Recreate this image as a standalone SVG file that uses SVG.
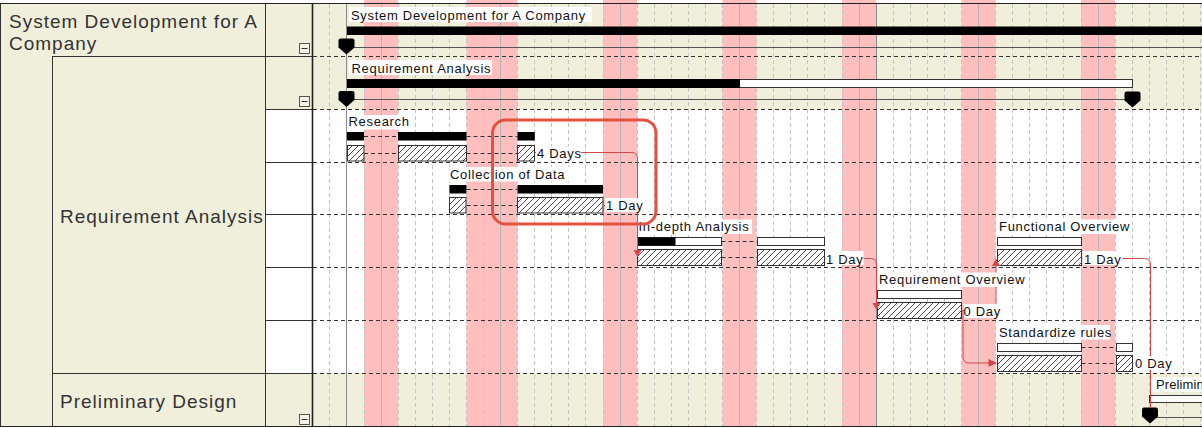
<svg xmlns="http://www.w3.org/2000/svg" width="1202" height="428" viewBox="0 0 1202 428">
<style>
.lbl{font-family:"Liberation Sans",Arial,sans-serif;font-size:13px;letter-spacing:0.7px;fill:#111}
.big{font-family:"Liberation Sans",Arial,sans-serif;font-size:19px;letter-spacing:1px;fill:#333}
.lbg{fill:#fff}
.pink{fill:#FFBFBF}
.beige{fill:#F0EFDC}
.done{fill:#000}
.plan{fill:#fff;stroke:#333;stroke-width:1}
.act{fill:url(#hatch);stroke:#333;stroke-width:1}
.dash{stroke:#333;stroke-width:1;stroke-dasharray:4 3;fill:none}
.conn{stroke:#D24848;stroke-width:1;fill:none}
.arr{fill:#D24848}
.sline{stroke:#555;stroke-width:1}
.icon{fill:#F4F3E6;stroke:#555;stroke-width:1}
</style>
<defs>
<pattern id="hatch" width="6" height="6" patternUnits="userSpaceOnUse">
<rect width="6" height="6" fill="#fff"/>
<path d="M-1,1 L1,-1 M0,6 L6,0 M5,7 L7,5" stroke="#333" stroke-width="0.9"/>
</pattern>
<path id="mk" d="M-8,2 Q-8,0 -6,0 H6 Q8,0 8,2 V9 L0,16 L-8,9 Z" fill="#000"/>
<g id="minus"><rect class="icon" x="0.5" y="0.5" width="10" height="10"/><path d="M2.5,5.5 H8.5" stroke="#333" stroke-width="1"/></g>
</defs>

<!-- chart background -->
<rect x="0" y="0" width="1202" height="428" fill="#fff"/>
<rect class="beige" x="313" y="4" width="889" height="105.5"/>
<rect class="beige" x="313" y="373" width="889" height="53"/>

<!-- weekend / holiday bands -->
<g id="bands">
<rect class="pink" x="364" y="0" width="34" height="426"/>
<rect class="pink" x="466.5" y="0" width="51" height="426"/>
<rect class="pink" x="603" y="0" width="34" height="426"/>
<rect class="pink" x="722.5" y="0" width="34" height="426"/>
<rect class="pink" x="842" y="0" width="34" height="426"/>
<rect class="pink" x="961.5" y="0" width="34" height="426"/>
<rect class="pink" x="1081" y="0" width="34" height="426"/>
</g>

<!-- grid -->
<g id="grid">
<path d="M329.5,4V426M364.5,4V426M398.5,4V426M415.5,4V426M432.5,4V426M449.5,4V426M466.5,4V426M483.5,4V426M517.5,4V426M534.5,4V426M551.5,4V426M568.5,4V426M585.5,4V426M603.5,4V426M637.5,4V426M654.5,4V426M671.5,4V426M688.5,4V426M705.5,4V426M722.5,4V426M756.5,4V426M773.5,4V426M790.5,4V426M807.5,4V426M824.5,4V426M842.5,4V426M893.5,4V426M910.5,4V426M927.5,4V426M944.5,4V426M961.5,4V426M995.5,4V426M1012.5,4V426M1029.5,4V426M1046.5,4V426M1063.5,4V426M1081.5,4V426M1115.5,4V426M1132.5,4V426M1149.5,4V426M1166.5,4V426M1183.5,4V426M1200.5,4V426" stroke="#C4C4C4" stroke-width="1" stroke-dasharray="4 3" fill="none"/>
<path d="M381.5,4V426M500.5,4V426M620.5,4V426M739.5,4V426M859.5,4V426M978.5,4V426M1098.5,4V426" stroke="#B4B4B4" stroke-width="1"/>
<path d="M346.5,4V426M876.5,4V426" stroke="#8A8A8A" stroke-width="1"/>
<path d="M313,56.5H1202M313,109.5H1202M313,162.5H1202M313,214.5H1202M313,267.5H1202M313,320.5H1202M313,373.5H1202" class="dash" stroke="#222"/>
</g>

<!-- summary rows -->
<g id="sum-system">
<rect class="lbg" x="349" y="7" width="243" height="15"/>
<text class="lbl" x="351" y="19.5">System Development for A Company</text>
<rect class="done" x="347" y="26.5" width="855" height="8.5"/>
<path class="sline" d="M347,47.5H1202"/>
<use href="#mk" x="346.5" y="38.5"/>
</g>
<g id="sum-req">
<rect class="lbg" x="349" y="60" width="143" height="15"/>
<text class="lbl" x="351.5" y="72.5">Requirement Analysis</text>
<rect class="plan" x="347.5" y="79.5" width="785" height="8"/>
<rect class="done" x="347" y="79" width="393" height="9"/>
<path class="sline" d="M347,99.5H1132"/>
<use href="#mk" x="346.5" y="91"/>
<use href="#mk" x="1132.5" y="91.5"/>
</g>
<g id="sum-prelim">
<rect class="lbg" x="1151" y="377" width="51" height="15"/>
<text class="lbl" x="1156" y="388.5" style="letter-spacing:0.1px">Prelimin</text>
<rect class="plan" x="1149.5" y="395.5" width="60" height="7"/>
<path class="sline" d="M1150,417.5H1202"/>
<use href="#mk" x="1150" y="407.5"/>
</g>

<!-- tasks -->
<g id="task-research">
<rect class="done" x="347" y="132" width="17" height="8.5"/>
<rect class="done" x="398" y="132" width="68.5" height="8.5"/>
<rect class="done" x="517.5" y="132" width="17.3" height="8.5"/>
<path class="dash" d="M364,136.5H398M466.5,136.5H517.5M364,153.5H398M466.5,153.5H517.5"/>
<rect class="act" x="347.5" y="145.5" width="16.5" height="15.5"/>
<rect class="act" x="398.5" y="145.5" width="68" height="15.5"/>
<rect class="act" x="517.5" y="145.5" width="17" height="15.5"/>
</g>
<g id="task-collection">
<rect class="done" x="449.4" y="185" width="17" height="8.5"/>
<rect class="done" x="517.5" y="185" width="85.5" height="8.5"/>
<path class="dash" d="M466.5,189.5H517.5M466.5,205.5H517.5"/>
<rect class="act" x="449.5" y="197.5" width="16.5" height="15.5"/>
<rect class="act" x="517.5" y="197.5" width="85.5" height="15.5"/>
</g>
<g id="task-indepth">
<rect class="plan" x="637.5" y="237.5" width="84" height="8"/>
<rect class="done" x="637.5" y="237.5" width="38" height="8"/>
<rect class="plan" x="757.5" y="237.5" width="67" height="8"/>
<path class="dash" d="M721.5,241.5H757.5M721.5,257.5H757.5"/>
<rect class="act" x="637.5" y="249.5" width="84" height="16"/>
<rect class="act" x="757.5" y="249.5" width="67" height="16"/>
</g>
<g id="task-functional">
<rect class="plan" x="997.5" y="237.5" width="84" height="8"/>
<rect class="act" x="997.5" y="249.5" width="84" height="16"/>
</g>
<g id="task-reqoverview">
<rect class="plan" x="877.5" y="290.5" width="84" height="8"/>
<rect class="act" x="877.5" y="302.5" width="84" height="16"/>
</g>
<g id="task-standardize">
<rect class="plan" x="997.5" y="343.5" width="84" height="8"/>
<rect class="plan" x="1116.5" y="343.5" width="16" height="8"/>
<path class="dash" d="M1081.5,347.5H1116.5M1081.5,363.5H1116.5"/>
<rect class="act" x="997.5" y="355.5" width="84" height="16"/>
<rect class="act" x="1116.5" y="355.5" width="16" height="16"/>
</g>

<!-- connectors -->
<g id="connectors">
<path class="conn" d="M534.8,152.5H631.5Q637.5,152.5 637.5,158.5V251"/>
<path class="conn" d="M603,205.5H637.5"/>
<path class="conn" d="M824.5,258.5H870.5Q876.5,258.5 876.5,264.5V304"/>
<path class="conn" d="M961.5,310.5H996V266"/>
<path class="conn" d="M961.5,310.5H963V357Q963,363 969,363H989"/>
<path class="conn" d="M1081.5,258.5H1144.5Q1150.5,258.5 1150.5,264.5V408"/>
<path class="conn" d="M1132.5,363.5H1150.5"/>
<polygon class="arr" points="633.5,250 641.5,250 637.5,257"/>
<polygon class="arr" points="872.5,303 880.5,303 876.5,310"/>
<polygon class="arr" points="992,266 1000,266 996,258.5"/>
<polygon class="arr" points="988.5,359 988.5,367 997,363"/>
</g>

<!-- task labels -->
<g id="labels">
<rect class="lbg" x="347" y="115" width="64" height="14.5"/>
<text class="lbl" x="348.5" y="126">Research</text>
<rect class="lbg" x="449" y="167" width="121" height="14.5"/>
<text class="lbl" x="450" y="178.5">Collection of Data</text>
<rect class="lbg" x="638.5" y="219.5" width="113.5" height="14.5"/>
<text class="lbl" x="638.5" y="231">In-depth Analysis</text>
<rect class="lbg" x="997" y="219.5" width="134" height="14.5"/>
<text class="lbl" x="999" y="231">Functional Overview</text>
<rect class="lbg" x="878" y="272.5" width="147" height="14.5"/>
<text class="lbl" x="879" y="284">Requirement Overview</text>
<rect class="lbg" x="997" y="325" width="113" height="14.5"/>
<text class="lbl" x="999" y="336.5">Standardize rules</text>
<rect class="lbg" x="536" y="146" width="45" height="14"/>
<text class="lbl" x="537" y="158">4 Days</text>
<rect class="lbg" x="605" y="198" width="39" height="14"/>
<text class="lbl" x="606" y="210">1 Day</text>
<rect class="lbg" x="825.5" y="251" width="38" height="14"/>
<text class="lbl" x="826" y="263.5">1 Day</text>
<rect class="lbg" x="964" y="304" width="37" height="14"/>
<text class="lbl" x="963.5" y="316">0 Day</text>
<rect class="lbg" x="1082.5" y="251" width="40" height="14"/>
<text class="lbl" x="1084" y="263.5">1 Day</text>
<rect class="lbg" x="1133.5" y="356" width="39" height="14"/>
<text class="lbl" x="1135" y="368">0 Day</text>
</g>

<!-- highlight -->
<rect id="highlight" x="492.5" y="120" width="163.5" height="104" rx="13" fill="none" stroke="#E2533F" stroke-width="3"/>

<!-- left tree panel -->
<g id="panel">
<rect class="beige" x="0" y="3.5" width="313" height="423"/>
<rect x="266" y="109.5" width="46.5" height="264" fill="#fff"/>
<g id="node-system">
<text class="big" x="9" y="27.5">System Development for A</text>
<text class="big" x="9" y="49.5">Company</text>
<use href="#minus" x="299" y="43"/>
</g>
<g id="node-req">
<text class="big" x="60" y="223">Requirement Analysis</text>
<use href="#minus" x="299" y="96"/>
</g>
<g id="node-prelim">
<text class="big" x="60" y="408">Preliminary Design</text>
<use href="#minus" x="299" y="414"/>
</g>
<path d="M0.5,3.5V426M52.5,56.5V426M265.5,3.5V426M52,56.5H312M52,373.5H312M265,109.5H312M265,162.5H312M265,214.5H312M265,267.5H312M265,320.5H312" stroke="#333" stroke-width="1" fill="none"/>
<path d="M312.5,3.5V426" stroke="#222" stroke-width="1.6"/>
</g>
<path d="M0,3.5H1202M0,426.5H1202" stroke="#222" stroke-width="1"/>
</svg>
